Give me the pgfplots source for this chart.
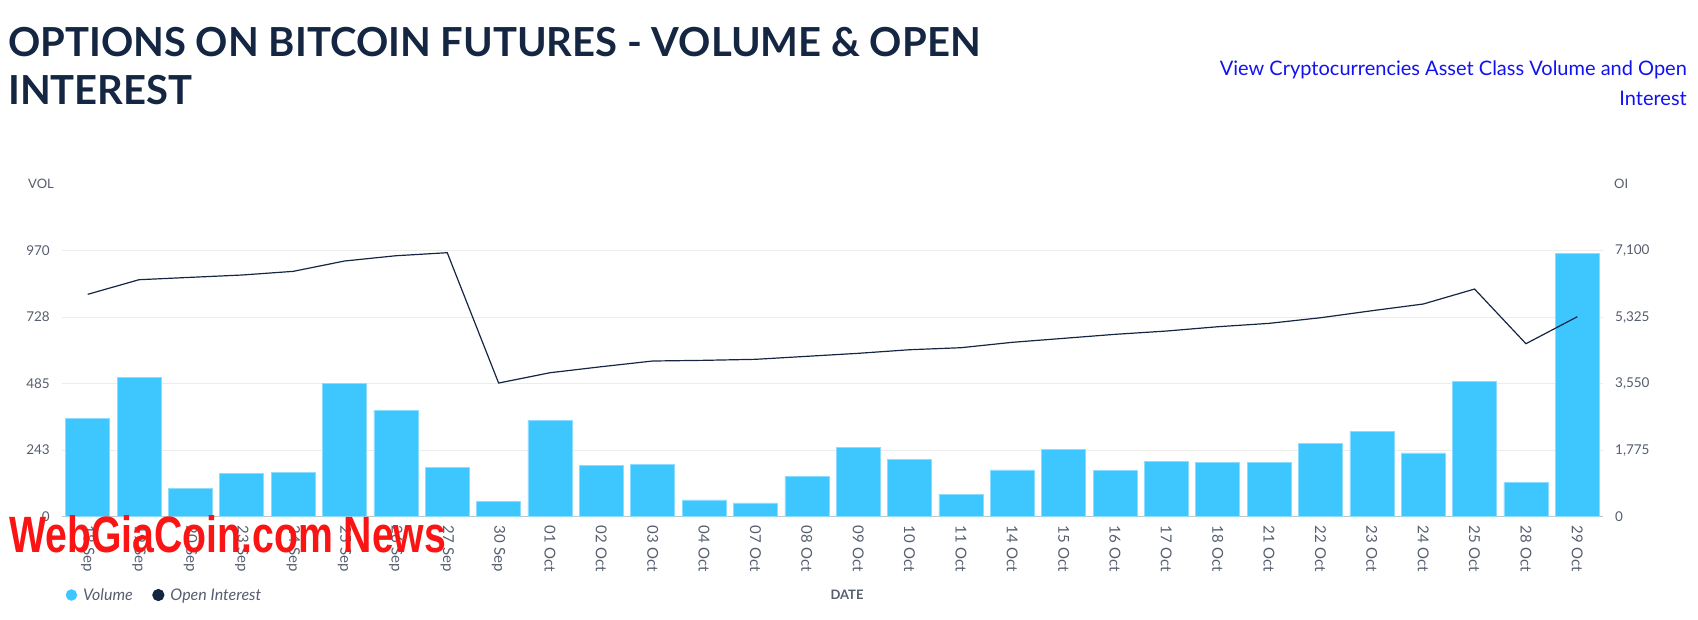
\documentclass[border=0pt]{standalone}
\usepackage{fontspec}
\setmainfont{Lato}
\newfontfamily\wmfont{Liberation Sans}
\usepackage{graphicx}
\usepackage{pgfplots}
\usepackage{pgfplotstable}
\pgfplotsset{compat=1.18}
\definecolor{barblue}{RGB}{62,199,255}
\definecolor{baredge}{RGB}{140,220,255}
\definecolor{navy}{RGB}{20,38,66}
\definecolor{lab}{RGB}{85,93,110}
\definecolor{linkblue}{RGB}{18,18,240}
\definecolor{gridc}{RGB}{236,236,236}
\definecolor{axgray}{RGB}{195,195,195}
\definecolor{wmred}{RGB}{250,20,20}

\pgfplotstableread{
x vol oi
0 359 5936
1 508 6326
2 103 6389
3 159 6451
4 163 6549
5 486 6825
6 389 6966
7 181 7047
8 56 3568
9 351 3843
10 188 4004
11 190 4156
12 61 4174
13 50 4201
14 146 4281
15 252 4361
16 209 4457
17 82 4511
18 171 4655
19 244 4761
20 170 4868
21 203 4956
22 199 5071
23 199 5161
24 268 5311
25 311 5498
26 233 5677
27 492 6077
28 126 4618
29 960 5338
}\data

\begin{document}
\begin{tikzpicture}
\useasboundingbox (0pt,0pt) rectangle (1698pt,-619pt);
% titles
\node[anchor=base west, inner sep=0pt, text=navy, font=\fontsize{40}{48}\selectfont\bfseries] at (8pt,-56pt) {OPTIONS ON BITCOIN FUTURES - VOLUME \& OPEN};
\node[anchor=base west, inner sep=0pt, text=navy, font=\fontsize{40}{48}\selectfont\bfseries] at (8pt,-104pt) {INTEREST};
\node[anchor=base east, inner sep=0pt, text=linkblue, font=\fontsize{20}{24}\selectfont] at (1687pt,-75.5pt) {View Cryptocurrencies Asset Class Volume and Open};
\node[anchor=base east, inner sep=0pt, text=linkblue, font=\fontsize{20}{24}\selectfont] at (1687pt,-105pt) {Interest};
\node[anchor=west, inner sep=0pt, text=lab, font=\fontsize{13}{15}\selectfont] at (28pt,-184pt) {VOL};
\node[anchor=west, inner sep=0pt, text=lab, font=\fontsize{13}{15}\selectfont] at (1614pt,-184pt) {OI};
\node[anchor=center, inner sep=0pt, text=lab, font=\fontsize{13}{15}\selectfont\bfseries] at (847pt,-595pt) {DATE};

\begin{axis}[
  at={(62pt,-516.7pt)}, anchor=south west,
  scale only axis, width=1541pt, height=266pt,
  xmin=-0.5, xmax=29.5, ymin=0, ymax=970,
  ytick={0,243,485,728,970},
  xtick={0,...,29},
  xticklabels={18 Sep,19 Sep,20 Sep,23 Sep,24 Sep,25 Sep,26 Sep,27 Sep,30 Sep,01 Oct,02 Oct,03 Oct,04 Oct,07 Oct,08 Oct,09 Oct,10 Oct,11 Oct,14 Oct,15 Oct,16 Oct,17 Oct,18 Oct,21 Oct,22 Oct,23 Oct,24 Oct,25 Oct,28 Oct,29 Oct},
  axis x line*=bottom, axis y line*=left,
  x axis line style={draw=axgray, line width=1pt, -},
  y axis line style={draw=none},
  major tick length=0pt,
  ymajorgrids, grid style={draw=gridc, line width=1pt},
  tick label style={font=\fontsize{13.5}{15}\selectfont, text=lab},
  yticklabel style={anchor=east, inner sep=0pt, xshift=-12pt},
  xticklabel style={font=\fontsize{15}{17}\selectfont, yshift=-9pt, rotate=-90, anchor=west, inner sep=0pt},
  /pgf/number format/assume math mode=true,
]
\addplot[ybar, bar width=44pt, fill=barblue, draw=baredge, line width=0.6pt] table[x=x, y=vol] {\data};
\end{axis}

\begin{axis}[
  at={(62pt,-516.7pt)}, anchor=south west,
  scale only axis, width=1541pt, height=266pt,
  xmin=-0.5, xmax=29.5, ymin=0, ymax=7100,
  ytick={0,1775,3550,5325,7100},
  axis x line=none, axis y line*=right,
  y axis line style={draw=none},
  major tick length=0pt,
  tick label style={font=\fontsize{13.5}{15}\selectfont, text=lab},
  yticklabel style={anchor=west, inner sep=0pt, xshift=12pt},
  /pgf/number format/.cd, 1000 sep={,}, assume math mode=true,
  /pgfplots/.cd,
  legend style={at={(axis description cs:0.0023,-0.2944)}, anchor=west, draw=none, fill=none, inner sep=0pt,
    font=\itshape\fontsize{16}{18}\selectfont, text=lab,
    nodes={inner xsep=6pt},
    /tikz/every even column/.append style={column sep=13.5pt}},
  legend columns=2,
]
\addlegendimage{legend image code/.code={\fill[barblue] (0pt,0pt) circle (5.5pt);}}
\addlegendentry{Volume}
\addplot[navy, line width=1.2pt, legend image code/.code={\fill[navy] (0pt,0pt) circle (5.5pt);}] table[x=x, y=oi] {\data};
\addlegendentry{Open Interest}
\end{axis}

\node[anchor=south west, inner sep=0pt, text=wmred] at (9pt,-553pt) {\resizebox{437pt}{37pt}{\wmfont\bfseries WebGiaCoin.com News}};
\end{tikzpicture}
\end{document}
